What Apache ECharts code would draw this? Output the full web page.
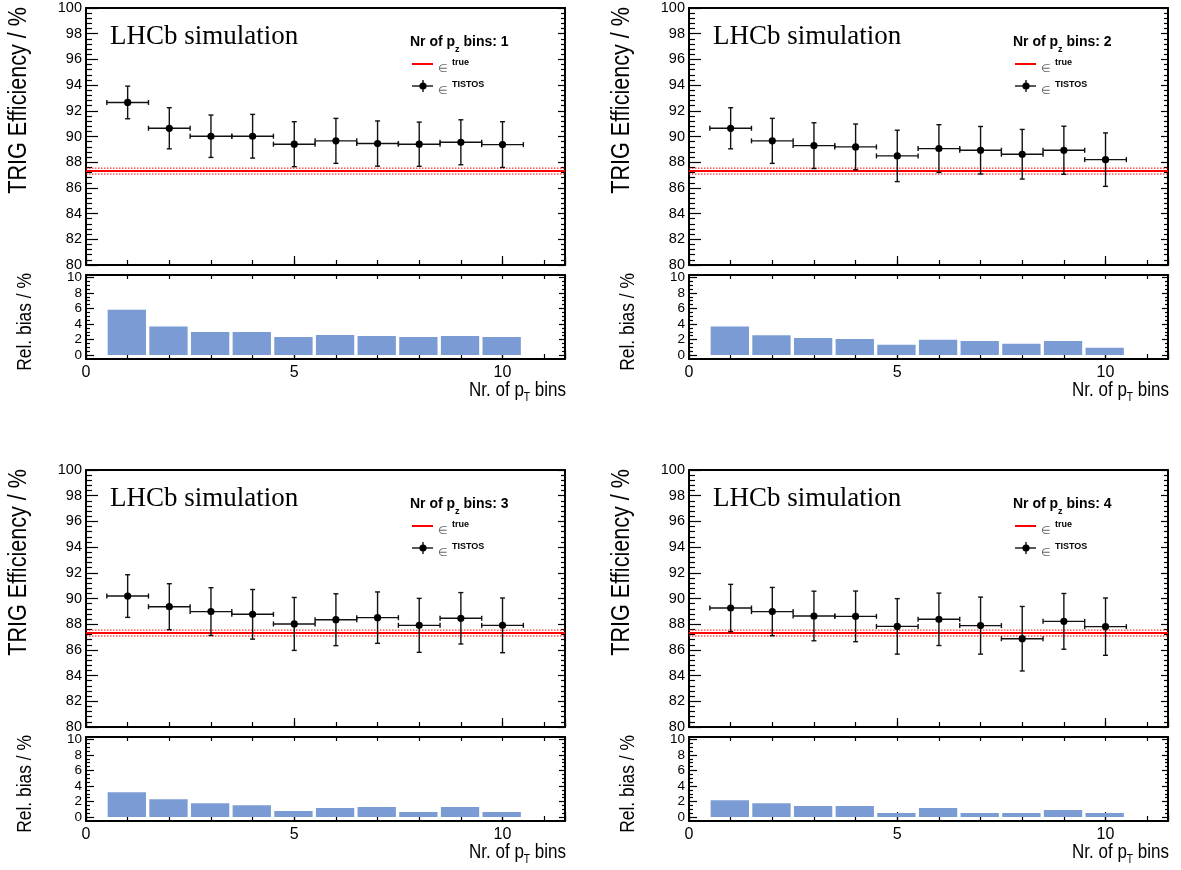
<!DOCTYPE html>
<html><head><meta charset="utf-8">
<script src="https://cdn.jsdelivr.net/npm/echarts@6/dist/echarts.min.js"></script>
<style>html,body{margin:0;padding:0;background:#fff}#c{width:1181px;height:870px}</style>
</head><body><div id="c"></div><script>
// ---------------- data ----------------
const bins = [1, 2, 3, 4, 5, 6, 7, 8, 9, 10];
const pzBins = [1, 2, 3, 4];
const effTrue = 87.31;
const effTrueErr = 0.23;
const eff1 = [92.65, 90.64, 90.02, 90.02, 89.40, 89.66, 89.45, 89.40, 89.55, 89.37];
const err1 = [1.27, 1.60, 1.65, 1.70, 1.75, 1.75, 1.76, 1.72, 1.75, 1.78];
const eff2 = [90.64, 89.66, 89.29, 89.19, 88.49, 89.06, 88.93, 88.62, 88.93, 88.20];
const err2 = [1.60, 1.75, 1.78, 1.78, 2.00, 1.86, 1.85, 1.93, 1.87, 2.08];
const eff3 = [90.19, 89.36, 88.98, 88.77, 88.02, 88.35, 88.51, 87.91, 88.46, 87.91];
const err3 = [1.66, 1.79, 1.86, 1.93, 2.06, 2.02, 2.00, 2.10, 2.00, 2.13];
const eff4 = [89.26, 88.98, 88.64, 88.61, 87.83, 88.38, 87.89, 86.87, 88.22, 87.81];
const err4 = [1.84, 1.88, 1.93, 1.97, 2.16, 2.04, 2.22, 2.51, 2.17, 2.23];
const bias1 = [5.83, 3.67, 2.96, 2.96, 2.33, 2.58, 2.46, 2.33, 2.46, 2.33];
const bias2 = [3.67, 2.54, 2.21, 2.08, 1.33, 1.96, 1.83, 1.46, 1.83, 0.96];
const bias3 = [3.20, 2.29, 1.79, 1.54, 0.79, 1.17, 1.29, 0.67, 1.29, 0.67];
const bias4 = [2.17, 1.79, 1.42, 1.42, 0.54, 1.17, 0.54, 0.54, 0.92, 0.54];
const effTicks = [80, 100, 2];     // min, max, step
const biasTicks = [0, 10, 2];      // labelled range of the bias axis
const biasFrame = [-0.5, 10.3];    // full extent of the bias frame
const xRange = [0, 11.5];
const yTitleMain = 'TRIG Efficiency / %';
const yTitleBias = 'Rel. bias / %';
const lhcbText = 'LHCb simulation';

const effs = [eff1, eff2, eff3, eff4];
const errs = [err1, err2, err3, err4];
const biases = [bias1, bias2, bias3, bias4];

// ---------------- layout / style ----------------
const NF = "'Liberation Sans',Arial,sans-serif";
const SF = "'Liberation Sans',Arial,sans-serif";
const colLeft = [86, 689];
const rowMainTop = [8, 470];
const rowBiasTop = [275, 737];
const W = 479, HM = 257, HB = 84;
const BAR = '#7b9bd4';

// bias inner grid (0..10) positioned inside the frame (-0.5..10.3)
const pxPerBias = HB / (biasFrame[1] - biasFrame[0]);
const innerTopOff = (biasFrame[1] - biasTicks[1]) * pxPerBias;
const innerH = (biasTicks[1] - biasTicks[0]) * pxPerBias;

const grids = [], xAxes = [], yAxes = [], series = [], graphics = [];

function xAx(g, pos, o) {
  return {
    type: 'value', gridIndex: g, position: pos, min: xRange[0], max: xRange[1], interval: o.interval || 1,
    show: o.hidden ? false : true,
    axisLine: { show: !!o.line, onZero: false, lineStyle: { color: '#000', width: 2 } },
    axisTick: { show: !!o.tick, inside: true, length: o.len || 5, lineStyle: { color: '#000', width: 1.2 } },
    axisLabel: o.label ? { show: true, margin: 6, fontFamily: NF, fontSize: 16, color: '#000',
      formatter: v => (v % 5 === 0 ? String(v) : '') } : { show: false },
    splitLine: { show: false }
  };
}
function yAx(g, pos, r, o) {
  return {
    type: 'value', gridIndex: g, position: pos, min: r[0], max: r[1], interval: r[2],
    axisLine: { show: !!o.line, onZero: false, lineStyle: { color: '#000', width: 2 } },
    axisTick: { show: !!o.tick, inside: true, length: o.len, lineStyle: { color: '#000', width: 1.2 } },
    minorTick: { show: !!o.tick, splitNumber: o.minorSplit || 5, length: o.minLen, lineStyle: { color: '#000', width: 1.2 } },
    axisLabel: o.label ? { show: true, margin: 4, fontFamily: NF, fontSize: o.fs, color: '#000',
      showMaxLabel: true, showMinLabel: true, formatter: v => String(v) } : { show: false },
    splitLine: { show: false }
  };
}

pzBins.forEach((pz, k) => {
  const c = k % 2, r = Math.floor(k / 2);
  const L = colLeft[c], TM = rowMainTop[r], TB = rowBiasTop[r];
  const gm = grids.length; grids.push({ left: L, top: TM, width: W, height: HM });
  const gb = grids.length; grids.push({ left: L, top: TB, width: W, height: HB });
  const gi = grids.length; grids.push({ left: L, top: TB + innerTopOff, width: W, height: innerH });

  // main axes
  const xm = xAxes.length;
  xAxes.push(xAx(gm, 'bottom', { line: true, tick: true, len: 5 }));
  xAxes.push(xAx(gm, 'bottom', { tick: true, len: 9, interval: 5 }));
  xAxes.push(xAx(gm, 'top', { line: true }));
  const ym = yAxes.length;
  yAxes.push(yAx(gm, 'left', effTicks, { line: true, tick: true, label: true, len: 12, minLen: 6, minorSplit: 5, fs: 14.5 }));
  yAxes.push(yAx(gm, 'right', effTicks, { line: true, tick: true, len: 7, minLen: 4, minorSplit: 5 }));

  // bias frame axes
  xAxes.push(xAx(gb, 'bottom', { line: true, tick: true, len: 5, label: true }));
  xAxes.push(xAx(gb, 'bottom', { tick: true, len: 9, interval: 5 }));
  xAxes.push(xAx(gb, 'top', { line: true, tick: true, len: 4 }));
  yAxes.push(Object.assign(yAx(gb, 'left', [biasFrame[0], biasFrame[1], null], { line: true }), { interval: undefined }));
  yAxes.push(Object.assign(yAx(gb, 'right', [biasFrame[0], biasFrame[1], null], { line: true }), { interval: undefined }));

  // bias inner axes (ticks + labels 0..10)
  const xb = xAxes.length;
  xAxes.push(xAx(gi, 'bottom', { hidden: true }));
  const yb = yAxes.length;
  yAxes.push(yAx(gi, 'left', biasTicks, { tick: true, label: true, len: 8, minLen: 4, minorSplit: 4, fs: 13.5 }));
  yAxes.push(yAx(gi, 'right', biasTicks, { tick: true, len: 6, minLen: 3, minorSplit: 4 }));

  // true efficiency line with band
  series.push({
    type: 'custom', xAxisIndex: xm, yAxisIndex: ym, silent: true, z: 2,
    data: [[effTrue, effTrueErr]],
    renderItem: (params, api) => {
      const cs = params.coordSys;
      const t = api.value(0), e = api.value(1);
      const y0 = api.coord([0, t])[1], y1 = api.coord([0, t + e])[1], y2 = api.coord([0, t - e])[1];
      const x1 = cs.x, x2 = cs.x + cs.width;
      return { type: 'group', children: [
        { type: 'line', shape: { x1, y1: y1, x2, y2: y1 }, style: { stroke: '#ff0000', lineWidth: 1, lineDash: [1.5, 1.5] } },
        { type: 'line', shape: { x1, y1: y2, x2, y2: y2 }, style: { stroke: '#ff0000', lineWidth: 1, lineDash: [1.5, 1.5] } },
        { type: 'line', shape: { x1, y1: y0, x2, y2: y0 }, style: { stroke: '#ff0000', lineWidth: 2 } }
      ] };
    }
  });

  // TISTOS points with error bars
  series.push({
    type: 'custom', xAxisIndex: xm, yAxisIndex: ym, silent: true, z: 3,
    data: bins.map((b, i) => [b, effs[k][i], errs[k][i]]),
    renderItem: (params, api) => {
      const x = api.value(0), y = api.value(1), e = api.value(2);
      const pL = api.coord([x - 0.5, y]), pR = api.coord([x + 0.5, y]);
      const pT = api.coord([x, y + e]), pB = api.coord([x, y - e]), pc = api.coord([x, y]);
      const st = { stroke: '#111', lineWidth: 1.4 };
      const cap = 2.5;
      return { type: 'group', children: [
        { type: 'line', shape: { x1: pL[0], y1: pL[1], x2: pR[0], y2: pR[1] }, style: st },
        { type: 'line', shape: { x1: pL[0], y1: pL[1] - cap, x2: pL[0], y2: pL[1] + cap }, style: st },
        { type: 'line', shape: { x1: pR[0], y1: pR[1] - cap, x2: pR[0], y2: pR[1] + cap }, style: st },
        { type: 'line', shape: { x1: pT[0], y1: pT[1], x2: pB[0], y2: pB[1] }, style: st },
        { type: 'line', shape: { x1: pT[0] - cap, y1: pT[1], x2: pT[0] + cap, y2: pT[1] }, style: st },
        { type: 'line', shape: { x1: pB[0] - cap, y1: pB[1], x2: pB[0] + cap, y2: pB[1] }, style: st },
        { type: 'circle', shape: { cx: pc[0], cy: pc[1], r: 3.6 }, style: { fill: '#000' } }
      ] };
    }
  });

  // relative bias bars
  series.push({
    type: 'custom', xAxisIndex: xb, yAxisIndex: yb, silent: true, z: 1, clip: false,
    data: bins.map((b, i) => [b, biases[k][i]]),
    renderItem: (params, api) => {
      const x = api.value(0), v = api.value(1);
      const p1 = api.coord([x - 0.48, v]), p2 = api.coord([x + 0.44, 0]);
      return { type: 'rect', shape: { x: p1[0], y: p1[1], width: p2[0] - p1[0], height: p2[1] - p1[1] }, style: { fill: BAR } };
    }
  });

  // texts
  graphics.push(
    { type: 'text', x: L + 24, y: TM + 29, style: { text: lhcbText, font: "27px 'Liberation Serif','Times New Roman',serif", fill: '#000', align: 'left', verticalAlign: 'middle' } },
    { type: 'text', x: L + 324, y: TM + 27, style: { text: '{b|Nr of p}{s|z}{b| bins: ' + pz + '}', align: 'left', verticalAlign: 'top',
      rich: { b: { fontFamily: SF, fontWeight: 'bold', fontSize: 14, verticalAlign: 'top', lineHeight: 16, fill: '#000' },
              s: { fontFamily: SF, fontWeight: 'bold', fontSize: 9, verticalAlign: 'top', padding: [10, 0, 0, 0], fill: '#000' } } } },
    { type: 'line', shape: { x1: L + 326, y1: TM + 56, x2: L + 347, y2: TM + 56 }, style: { stroke: '#ff0000', lineWidth: 2 } },
    { type: 'text', x: L + 352, y: TM + 50, style: { text: '{e|∈}{t|true}', align: 'left', verticalAlign: 'top',
      rich: { e: { fontFamily: SF, fontSize: 11, fill: '#666', verticalAlign: 'top', padding: [5, 4, 0, 0] },
              t: { fontFamily: SF, fontWeight: 'bold', fontSize: 9, fill: '#000', verticalAlign: 'top' } } } },
    { type: 'line', shape: { x1: L + 326, y1: TM + 78, x2: L + 347, y2: TM + 78 }, style: { stroke: '#111', lineWidth: 1.4 } },
    { type: 'line', shape: { x1: L + 337, y1: TM + 72, x2: L + 337, y2: TM + 84 }, style: { stroke: '#111', lineWidth: 1.4 } },
    { type: 'circle', shape: { cx: L + 337, cy: TM + 78, r: 3.6 }, style: { fill: '#000' } },
    { type: 'text', x: L + 352, y: TM + 72, style: { text: '{e|∈}{t|TISTOS}', align: 'left', verticalAlign: 'top',
      rich: { e: { fontFamily: SF, fontSize: 11, fill: '#666', verticalAlign: 'top', padding: [5, 4, 0, 0] },
              t: { fontFamily: SF, fontWeight: 'bold', fontSize: 9, fill: '#000', verticalAlign: 'top' } } } },
    { type: 'text', x: L - 67, y: TM - 1, rotation: Math.PI / 2, scaleX: 0.83, style: { text: yTitleMain, font: '26px ' + NF, fill: '#000', align: 'right', verticalAlign: 'middle' } },
    { type: 'text', x: L - 61, y: TB - 2, rotation: Math.PI / 2, scaleX: 0.83, style: { text: yTitleBias, font: '21px ' + NF, fill: '#000', align: 'right', verticalAlign: 'middle' } },
    { type: 'text', x: L + W + 1, y: TB + 105, scaleX: 0.85, style: { text: '{a|Nr. of p}{s|T}{a| bins}', align: 'right', verticalAlign: 'top',
      rich: { a: { fontFamily: NF, fontSize: 20, verticalAlign: 'top', lineHeight: 21, fill: '#000' },
              s: { fontFamily: NF, fontSize: 12, verticalAlign: 'top', padding: [12, 0, 0, 0], fill: '#000' } } } }
  );
});

const chart = echarts.init(document.getElementById('c'), null, { renderer: 'canvas' });
chart.setOption({
  animation: false,
  backgroundColor: '#fff',
  grid: grids, xAxis: xAxes, yAxis: yAxes, series: series, graphic: graphics
});
</script></body></html>
